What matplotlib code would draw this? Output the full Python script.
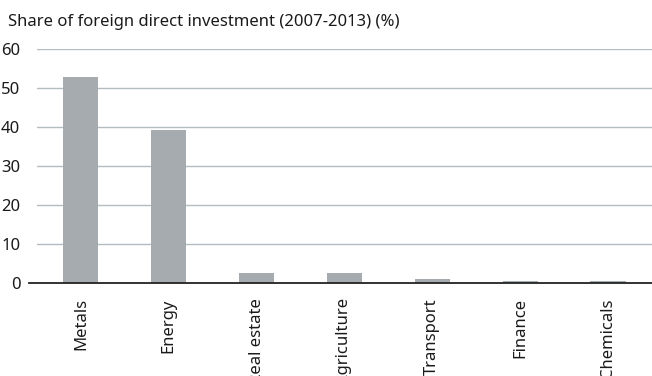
import matplotlib
matplotlib.use('Agg')
import matplotlib.pyplot as plt

# data
sectors = ['Metals', 'Energy', 'Real estate', 'Agriculture', 'Transport', 'Finance', 'Chemicals']
share = [52.8, 39.2, 2.6, 2.6, 0.9, 0.6, 0.4]
yticks = [0, 10, 20, 30, 40, 50, 60]

plt.rcParams['font.family'] = ['Noto Sans', 'DejaVu Sans']
plt.rcParams['text.color'] = '#1a1a1a'

fig = plt.figure(figsize=(6.52, 3.76), dpi=100)
ax = fig.add_axes([37/652, (376-283)/376, (652-37)/652, (283-49)/376])

ax.bar(range(len(sectors)), share, width=0.4, color='#a5abaf', zorder=3)
ax.set_xlim(-0.5, len(sectors) - 0.5)
ax.set_ylim(0, 60)
ax.set_yticks(yticks)
ax.set_yticklabels([str(t) for t in yticks], fontsize=12, color='#1a1a1a')
ax.tick_params(axis='y', length=0, pad=12)
ax.tick_params(axis='x', length=0, pad=11)
ax.set_xticks(range(len(sectors)))
ax.set_xticklabels(sectors, rotation=90, fontsize=12, va='top', color='#1a1a1a')

for t in yticks[1:]:
    ax.axhline(t, color='#b5bcc0', lw=1, zorder=1)
ax.axhline(0, color='#222222', lw=1.3, zorder=4, xmin=-0.013, clip_on=False)

for s in ax.spines.values():
    s.set_visible(False)

fig.text(8/652, 1 - 22/376, 'Share of foreign direct investment (2007-2013) (%)',
         fontsize=12, va='center', ha='left')

plt.savefig('out.png', dpi=100)
